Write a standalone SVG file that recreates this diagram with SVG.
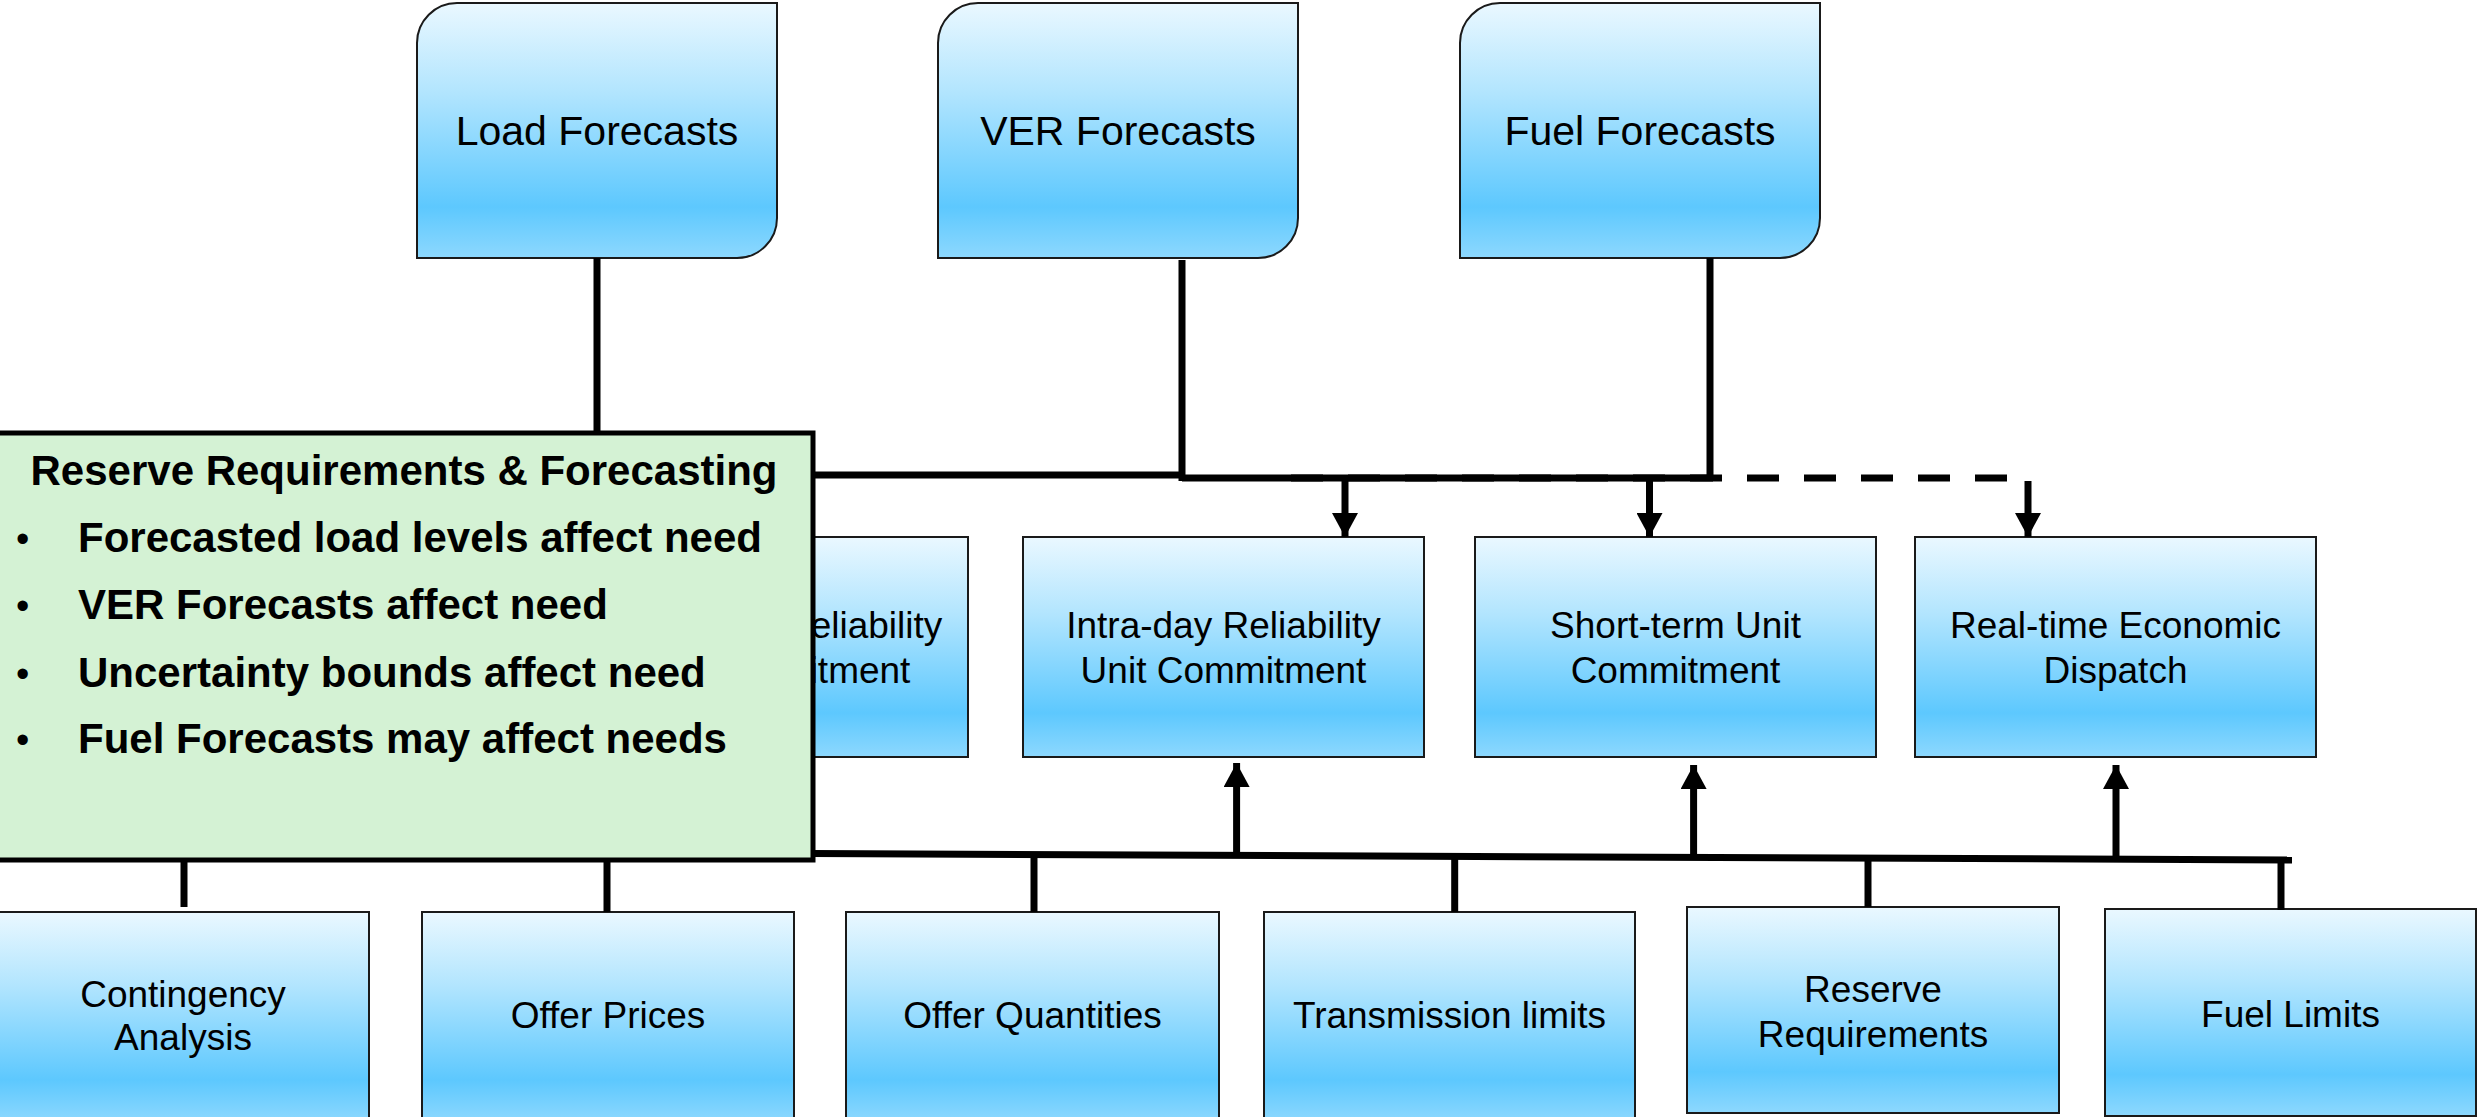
<svg xmlns="http://www.w3.org/2000/svg" width="2484" height="1117" viewBox="0 0 2484 1117">
<defs>
<linearGradient id="blue" x1="0" y1="0" x2="0" y2="1">
<stop offset="0" stop-color="#EAF8FF"/>
<stop offset="0.35" stop-color="#B2E5FE"/>
<stop offset="0.8" stop-color="#5DC8FE"/>
<stop offset="1" stop-color="#8DD8FE"/>
</linearGradient>
<marker id="ah" viewBox="0 0 24 26" markerWidth="24" markerHeight="26" markerUnits="userSpaceOnUse" refX="24" refY="13" orient="auto">
<path d="M0,0 L24,13 L0,26 z" fill="#000"/>
</marker>
</defs>
<style>
.box{fill:url(#blue);stroke:#1a1a1a;stroke-width:2}
.lbl{font-family:"Liberation Sans",Arial,sans-serif;font-size:37px;fill:#000;text-anchor:middle}
.big{font-size:41px}
.ln{stroke:#000;stroke-width:7;fill:none}
.arr{stroke:#000;stroke-width:7;fill:none;marker-end:url(#ah)}
.dash{stroke:#000;stroke-width:7;fill:none;stroke-dasharray:32 25}
.note{fill:#D4F2D4;stroke:#000;stroke-width:5}
.nt{font-family:"Liberation Sans",Arial,sans-serif;font-size:42px;font-weight:bold;fill:#000}
.bul{font-family:"Liberation Sans",Arial,sans-serif;font-size:38px;fill:#000}
</style>
<rect width="2484" height="1117" fill="#fff"/>

<g id="load-forecasts">
<path class="box" d="M457,3 H777 V218 A40,40 0 0 1 737,258 H417 V43 A40,40 0 0 1 457,3 Z"/>
<text class="lbl big" x="597" y="145">Load Forecasts</text>
</g>
<g id="ver-forecasts">
<path class="box" d="M978,3 H1298 V218 A40,40 0 0 1 1258,258 H938 V43 A40,40 0 0 1 978,3 Z"/>
<text class="lbl big" x="1118" y="145">VER Forecasts</text>
</g>
<g id="fuel-forecasts">
<path class="box" d="M1500,3 H1820 V218 A40,40 0 0 1 1780,258 H1460 V43 A40,40 0 0 1 1500,3 Z"/>
<text class="lbl big" x="1640" y="145">Fuel Forecasts</text>
</g>

<g id="day-ahead-ruc">
<rect class="box" x="567" y="537" width="401" height="220"/>
<text class="lbl" x="767.5" y="638">Day-ahead Reliability</text>
<text class="lbl" x="767.5" y="683">Unit Commitment</text>
</g>
<g id="intra-day-ruc">
<rect class="box" x="1023" y="537" width="401" height="220"/>
<text class="lbl" x="1223.5" y="638">Intra-day Reliability</text>
<text class="lbl" x="1223.5" y="683">Unit Commitment</text>
</g>
<g id="short-term-uc">
<rect class="box" x="1475" y="537" width="401" height="220"/>
<text class="lbl" x="1675.5" y="638">Short-term Unit</text>
<text class="lbl" x="1675.5" y="683">Commitment</text>
</g>
<g id="real-time-ed">
<rect class="box" x="1915" y="537" width="401" height="220"/>
<text class="lbl" x="2115.5" y="638">Real-time Economic</text>
<text class="lbl" x="2115.5" y="683">Dispatch</text>
</g>

<g id="contingency-analysis">
<rect class="box" x="-3" y="912" width="372" height="210"/>
<text class="lbl" x="183" y="1007">Contingency</text>
<text class="lbl" x="183" y="1050">Analysis</text>
</g>
<g id="offer-prices">
<rect class="box" x="422" y="912" width="372" height="210"/>
<text class="lbl" x="608" y="1028">Offer Prices</text>
</g>
<g id="offer-quantities">
<rect class="box" x="846" y="912" width="373" height="210"/>
<text class="lbl" x="1032.5" y="1028">Offer Quantities</text>
</g>
<g id="transmission-limits">
<rect class="box" x="1264" y="912" width="371" height="210"/>
<text class="lbl" x="1449.5" y="1028">Transmission limits</text>
</g>
<g id="reserve-requirements">
<rect class="box" x="1687" y="907" width="372" height="206"/>
<text class="lbl" x="1873" y="1002">Reserve</text>
<text class="lbl" x="1873" y="1047">Requirements</text>
</g>
<g id="fuel-limits">
<rect class="box" x="2105" y="909" width="371" height="207"/>
<text class="lbl" x="2290.5" y="1027">Fuel Limits</text>
</g>

<g id="connectors">
<line class="ln" x1="597" y1="258" x2="597" y2="478"/>
<line class="ln" x1="1182" y1="260" x2="1182" y2="481"/>
<line class="ln" x1="1710" y1="258" x2="1710" y2="481"/>
<line class="ln" x1="597" y1="475" x2="1185" y2="475"/>
<line class="ln" x1="1182" y1="478" x2="1713" y2="478"/>
<path class="dash" d="M1291,478 H2031"/>
<path class="arr" d="M1345,478 V537"/>
<path class="arr" d="M1649.5,478 V537"/>
<path class="arr" d="M2028,481 V537"/>
<line class="ln" x1="0" y1="850" x2="2292" y2="860"/>
<path class="arr" d="M1236.6,853 V763"/>
<path class="arr" d="M1693.6,856 V765"/>
<path class="arr" d="M2116,859 V765"/>
<line class="ln" x1="184" y1="851" x2="184" y2="907"/>
<line class="ln" x1="607" y1="853" x2="607" y2="912"/>
<line class="ln" x1="1034" y1="855" x2="1034" y2="912"/>
<line class="ln" x1="1454.7" y1="857" x2="1454.7" y2="912"/>
<line class="ln" x1="1868" y1="858" x2="1868" y2="907"/>
<line class="ln" x1="2281" y1="860" x2="2281" y2="910"/>
</g>

<g id="reserve-note">
<rect class="note" x="-5" y="433" width="818" height="427"/>
<text class="nt" x="404" y="485" text-anchor="middle">Reserve Requirements &amp; Forecasting</text>
<text class="bul" x="16" y="552">•</text>
<text class="nt" x="78" y="552">Forecasted load levels affect need</text>
<text class="bul" x="16" y="619">•</text>
<text class="nt" x="78" y="619">VER Forecasts affect need</text>
<text class="bul" x="16" y="687">•</text>
<text class="nt" x="78" y="687">Uncertainty bounds affect need</text>
<text class="bul" x="16" y="753">•</text>
<text class="nt" x="78" y="753">Fuel Forecasts may affect needs</text>
</g>
</svg>
